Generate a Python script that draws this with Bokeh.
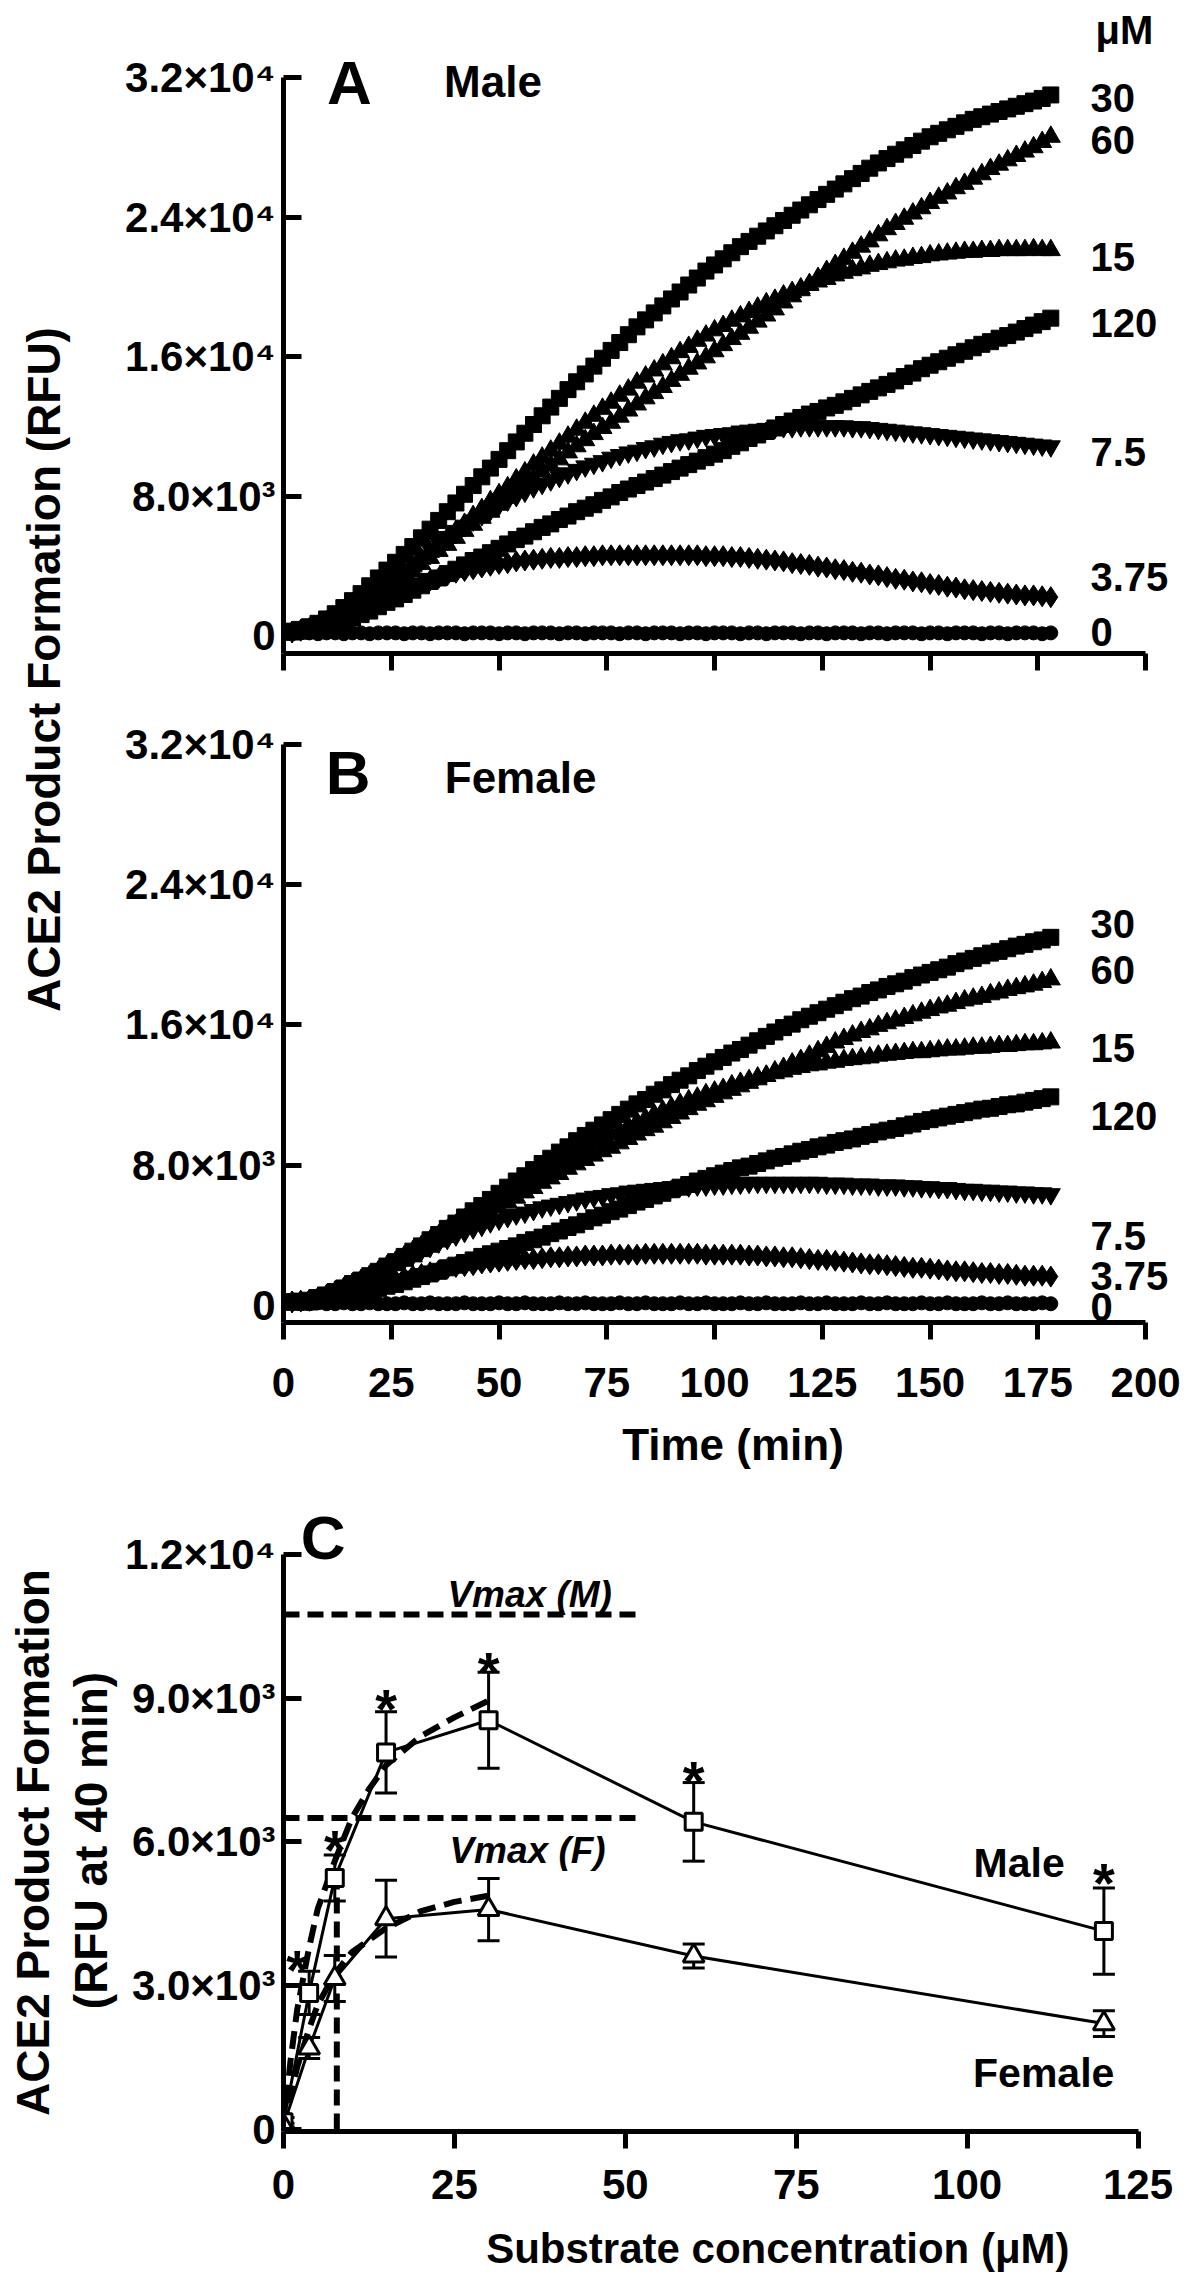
import math
from bokeh.plotting import figure
from bokeh.layouts import row, column
from bokeh.models import Range1d, FixedTicker, Whisker, TeeHead, ColumnDataSource, Label
from bokeh.core.properties import value
from bokeh.embed import file_html
from bokeh.resources import INLINE

FONT = "Liberation Sans"

# ---------------- data (RFU values in thousands for the time courses) ----------------
time_min = list(range(0, 180, 2))

male_30 = [0.2,0.25,0.35,0.5,0.7,0.95,1.25,1.6,2.0,2.4,
           2.85,3.3,3.75,4.2,4.65,5.1,5.6,6.1,6.6,7.1,
           7.6,8.1,8.6,9.1,9.6,10.1,10.6,11.1,11.6,12.1,
           12.6,13.1,13.6,14.1,14.55,15.0,15.45,15.9,16.35,16.8,
           17.25,17.7,18.1,18.5,18.9,19.3,19.7,20.1,20.5,20.9,
           21.25,21.6,21.95,22.3,22.6,22.9,23.2,23.5,23.8,24.1,
           24.4,24.7,25.0,25.3,25.6,25.9,26.2,26.5,26.8,27.1,
           27.35,27.6,27.85,28.1,28.35,28.6,28.8,29.0,29.2,29.4,
           29.6,29.75,29.9,30.05,30.2,30.35,30.5,30.65,30.8,31.0]
male_60 = [0.2,0.2,0.25,0.35,0.5,0.7,0.9,1.15,1.4,1.7,
           2.0,2.3,2.65,3.0,3.35,3.7,4.1,4.45,4.85,5.2,
           5.6,6.0,6.35,6.75,7.1,7.5,7.9,8.25,8.65,9.0,
           9.4,9.75,10.1,10.5,10.85,11.2,11.55,11.9,12.2,12.55,
           12.9,13.25,13.6,13.9,14.25,14.6,14.95,15.3,15.6,15.95,
           16.3,16.65,17.0,17.3,17.65,18.0,18.35,18.7,19.1,19.45,
           19.8,20.15,20.5,20.9,21.25,21.6,21.95,22.3,22.6,22.95,
           23.3,23.6,23.9,24.2,24.5,24.8,25.1,25.35,25.65,25.9,
           26.2,26.45,26.75,27.0,27.25,27.5,27.75,28.0,28.3,28.6]
male_15 = [0.2,0.2,0.3,0.4,0.55,0.8,1.05,1.35,1.65,1.9,
           2.2,2.55,2.9,3.25,3.6,4.0,4.4,4.8,5.2,5.6,
           6.0,6.4,6.85,7.25,7.7,8.1,8.5,8.95,9.35,9.8,
           10.2,10.6,11.0,11.4,11.8,12.2,12.6,13.0,13.35,13.75,
           14.1,14.5,14.85,15.2,15.55,15.9,16.25,16.55,16.9,17.2,
           17.5,17.75,18.05,18.3,18.55,18.8,19.05,19.25,19.5,19.7,
           19.9,20.1,20.3,20.45,20.65,20.8,20.95,21.05,21.2,21.3,
           21.4,21.5,21.55,21.65,21.7,21.8,21.85,21.9,21.95,22.0,
           22.0,22.05,22.05,22.1,22.1,22.1,22.1,22.15,22.1,22.1]
male_120 = [0.2,0.2,0.25,0.3,0.4,0.5,0.65,0.85,1.0,1.2,
            1.4,1.65,1.9,2.1,2.35,2.6,2.85,3.1,3.3,3.55,
            3.8,4.05,4.3,4.5,4.75,5.0,5.25,5.5,5.7,5.95,
            6.2,6.4,6.65,6.85,7.1,7.3,7.5,7.75,7.95,8.2,
            8.4,8.6,8.8,9.0,9.2,9.4,9.6,9.8,10.0,10.2,
            10.4,10.6,10.85,11.05,11.3,11.5,11.7,11.9,12.1,12.3,
            12.5,12.7,12.85,13.05,13.2,13.4,13.6,13.8,14.0,14.2,
            14.4,14.6,14.85,15.05,15.3,15.5,15.7,15.9,16.1,16.3,
            16.5,16.7,16.85,17.05,17.2,17.4,17.6,17.8,18.0,18.2]
male_7_5 = [0.2,0.2,0.3,0.4,0.55,0.8,1.05,1.35,1.65,1.95,
            2.3,2.7,3.05,3.45,3.8,4.2,4.55,4.95,5.3,5.65,
            6.0,6.3,6.6,6.9,7.2,7.5,7.75,8.0,8.25,8.5,
            8.7,8.9,9.1,9.3,9.5,9.7,9.85,10.0,10.2,10.35,
            10.5,10.6,10.75,10.85,11.0,11.1,11.2,11.25,11.35,11.45,
            11.5,11.55,11.6,11.7,11.75,11.8,11.85,11.9,11.95,11.95,
            12.0,12.0,12.0,12.0,12.0,12.0,11.95,11.95,11.9,11.85,
            11.8,11.75,11.7,11.65,11.6,11.55,11.5,11.45,11.4,11.35,
            11.3,11.25,11.2,11.15,11.1,11.05,11.0,10.95,10.9,10.85]
male_3_75 = [0.2,0.2,0.3,0.4,0.5,0.7,0.9,1.1,1.3,1.5,
             1.7,1.95,2.15,2.4,2.6,2.8,3.0,3.15,3.3,3.45,
             3.6,3.7,3.8,3.9,4.0,4.1,4.15,4.25,4.3,4.35,
             4.4,4.45,4.45,4.5,4.5,4.55,4.55,4.6,4.6,4.6,
             4.6,4.6,4.6,4.6,4.6,4.6,4.6,4.6,4.6,4.55,
             4.55,4.55,4.5,4.5,4.45,4.4,4.35,4.3,4.25,4.15,
             4.1,4.05,3.95,3.9,3.8,3.75,3.65,3.6,3.5,3.45,
             3.35,3.25,3.2,3.1,3.05,2.95,2.9,2.8,2.75,2.65,
             2.6,2.55,2.5,2.45,2.4,2.35,2.3,2.3,2.25,2.2]
male_0 = [0.15,0.1,0.15,0.15,0.1,0.15,0.15,0.1,0.15,0.15,
          0.1,0.15,0.15,0.15,0.1,0.15,0.15,0.1,0.15,0.15,
          0.15,0.1,0.15,0.15,0.15,0.1,0.15,0.15,0.1,0.15,
          0.15,0.15,0.1,0.15,0.15,0.1,0.15,0.15,0.15,0.1,
          0.15,0.15,0.1,0.15,0.15,0.15,0.1,0.15,0.15,0.1,
          0.15,0.15,0.15,0.1,0.15,0.15,0.1,0.15,0.15,0.15,
          0.1,0.15,0.15,0.1,0.15,0.15,0.15,0.1,0.15,0.15,
          0.1,0.15,0.15,0.15,0.1,0.15,0.15,0.1,0.15,0.15,
          0.15,0.1,0.15,0.15,0.1,0.15,0.15,0.15,0.1,0.15]

female_30 = [0.2,0.2,0.25,0.3,0.45,0.6,0.8,1.0,1.25,1.45,
             1.7,1.95,2.25,2.5,2.8,3.1,3.4,3.75,4.05,4.4,
             4.7,5.05,5.4,5.7,6.05,6.4,6.75,7.1,7.4,7.75,
             8.1,8.4,8.75,9.05,9.4,9.7,10.0,10.3,10.6,10.9,
             11.2,11.5,11.75,12.05,12.3,12.6,12.85,13.1,13.4,13.65,
             13.9,14.15,14.4,14.6,14.85,15.1,15.35,15.6,15.85,16.05,
             16.3,16.5,16.7,16.9,17.1,17.3,17.5,17.65,17.85,18.0,
             18.2,18.35,18.5,18.7,18.85,19.0,19.15,19.3,19.5,19.65,
             19.8,19.95,20.1,20.2,20.35,20.5,20.6,20.75,20.85,21.0]
female_60 = [0.2,0.2,0.2,0.3,0.4,0.5,0.7,0.9,1.1,1.3,
             1.5,1.75,2.0,2.3,2.55,2.8,3.1,3.35,3.65,3.9,
             4.2,4.5,4.75,5.05,5.3,5.6,5.9,6.15,6.45,6.7,
             7.0,7.25,7.5,7.8,8.05,8.3,8.55,8.8,9.0,9.25,
             9.5,9.75,10.0,10.2,10.45,10.7,10.95,11.2,11.45,11.65,
             11.9,12.1,12.3,12.5,12.7,12.9,13.1,13.35,13.55,13.8,
             14.0,14.25,14.5,14.75,15.0,15.2,15.4,15.6,15.75,15.95,
             16.1,16.25,16.4,16.55,16.7,16.85,17.0,17.1,17.25,17.4,
             17.5,17.6,17.75,17.85,18.0,18.1,18.2,18.3,18.45,18.6]
female_15 = [0.2,0.2,0.25,0.3,0.45,0.6,0.8,1.0,1.25,1.45,
             1.7,1.95,2.25,2.5,2.8,3.1,3.4,3.7,4.0,4.3,
             4.6,4.9,5.2,5.5,5.8,6.1,6.4,6.7,7.0,7.3,
             7.6,7.9,8.15,8.45,8.75,9.0,9.25,9.5,9.75,9.95,
             10.2,10.45,10.65,10.9,11.1,11.3,11.5,11.7,11.85,12.05,
             12.2,12.35,12.55,12.7,12.85,13.0,13.1,13.25,13.35,13.5,
             13.6,13.7,13.75,13.85,13.9,14.0,14.05,14.1,14.15,14.25,
             14.3,14.35,14.4,14.45,14.45,14.5,14.55,14.6,14.6,14.65,
             14.7,14.7,14.75,14.8,14.8,14.85,14.9,14.9,14.95,15.0]
female_120 = [0.2,0.2,0.2,0.2,0.25,0.3,0.4,0.5,0.6,0.7,
              0.8,0.95,1.1,1.2,1.35,1.5,1.65,1.8,1.95,2.15,
              2.3,2.45,2.6,2.8,2.95,3.1,3.25,3.4,3.6,3.75,
              3.9,4.1,4.25,4.45,4.6,4.8,5.0,5.15,5.35,5.5,
              5.7,5.9,6.05,6.25,6.4,6.6,6.75,6.9,7.1,7.25,
              7.4,7.55,7.7,7.85,7.95,8.1,8.25,8.4,8.5,8.65,
              8.8,8.9,9.05,9.15,9.3,9.4,9.5,9.65,9.75,9.9,
              10.0,10.1,10.25,10.35,10.5,10.6,10.7,10.8,10.9,11.0,
              11.1,11.2,11.25,11.35,11.45,11.5,11.6,11.7,11.8,11.9]
female_7_5 = [0.2,0.2,0.25,0.3,0.45,0.6,0.8,1.05,1.25,1.5,
              1.7,1.95,2.2,2.45,2.65,2.9,3.15,3.35,3.6,3.8,
              4.0,4.2,4.4,4.55,4.75,4.9,5.05,5.2,5.3,5.45,
              5.6,5.7,5.8,5.9,6.0,6.1,6.2,6.25,6.35,6.4,
              6.5,6.55,6.6,6.65,6.7,6.75,6.8,6.8,6.85,6.85,
              6.9,6.9,6.95,6.95,7.0,7.0,7.0,7.0,7.0,7.0,
              7.0,7.0,7.0,6.95,6.95,6.95,6.9,6.9,6.9,6.85,
              6.85,6.85,6.8,6.8,6.75,6.75,6.7,6.7,6.65,6.6,
              6.6,6.55,6.55,6.5,6.5,6.45,6.45,6.4,6.4,6.35]
female_3_75 = [0.2,0.2,0.25,0.3,0.4,0.5,0.6,0.75,0.85,0.95,
               1.1,1.2,1.35,1.45,1.6,1.7,1.8,1.9,2.0,2.1,
               2.2,2.25,2.3,2.4,2.45,2.5,2.55,2.6,2.65,2.65,
               2.7,2.75,2.75,2.8,2.8,2.85,2.85,2.85,2.9,2.9,
               2.9,2.9,2.95,2.95,2.95,2.95,2.95,2.95,2.95,2.9,
               2.9,2.9,2.9,2.9,2.85,2.85,2.8,2.8,2.75,2.75,
               2.7,2.65,2.6,2.6,2.55,2.5,2.45,2.4,2.35,2.35,
               2.3,2.25,2.2,2.15,2.15,2.1,2.05,2.0,1.95,1.95,
               1.9,1.85,1.85,1.8,1.8,1.75,1.7,1.7,1.7,1.65]
female_0 = [0.1,0.15,0.1,0.1,0.15,0.1,0.1,0.15,0.1,0.1,
            0.15,0.1,0.1,0.1,0.15,0.1,0.1,0.15,0.1,0.1,
            0.1,0.15,0.1,0.1,0.1,0.15,0.1,0.1,0.15,0.1,
            0.1,0.1,0.15,0.1,0.1,0.15,0.1,0.1,0.1,0.15,
            0.1,0.1,0.15,0.1,0.1,0.1,0.15,0.1,0.1,0.15,
            0.1,0.1,0.1,0.15,0.1,0.1,0.15,0.1,0.1,0.1,
            0.15,0.1,0.1,0.15,0.1,0.1,0.1,0.15,0.1,0.1,
            0.15,0.1,0.1,0.1,0.15,0.1,0.1,0.15,0.1,0.1,
            0.1,0.15,0.1,0.1,0.15,0.1,0.1,0.1,0.15,0.1]

conc_labels = ["30", "60", "15", "120", "7.5", "3.75", "0"]
male_label_y = [31200, 28800, 22100, 18300, 10950, 3750, 600]
female_label_y = [22150, 19530, 15070, 11200, 4350, 2100, 320]

# Panel C
substrate_uM = [0, 3.75, 7.5, 15, 30, 60, 120]
male_rfu40 = [150, 2850, 5250, 7870, 8540, 6420, 4140]
male_sem = [100, 450, 480, 850, 1000, 820, 900]
female_rfu40 = [80, 1700, 3150, 4400, 4590, 3620, 2210]
female_sem = [50, 220, 480, 800, 650, 250, 270]
star_x = [2.0, 7.5, 15, 30, 60, 120]
star_y = [3670, 6180, 9130, 9900, 7620, 5480]
fit_x_male = [0, 1, 2, 3.75, 5, 7.5, 10, 12.5, 15, 20, 25, 30]
fit_y_male = [0, 1400, 2500, 3800, 4600, 5600, 6500, 7100, 7600, 8200, 8600, 8950]
fit_x_female = [0, 1, 2, 3.75, 5, 7.5, 10, 15, 20, 25, 30]
fit_y_female = [0, 700, 1300, 2100, 2600, 3250, 3700, 4200, 4550, 4750, 4880]
vmax_male = 10750
vmax_female = 6500
km_male = 7.8
vmax_line_end = 52

# ---------------- helpers ----------------
def style_axes(p, ylabels, xlabels):
    for ax in (p.xaxis[0], p.yaxis[0]):
        ax.axis_line_width = 5
        ax.axis_line_color = "black"
        ax.major_tick_line_width = 5
        ax.major_tick_line_color = "black"
        ax.minor_tick_line_color = None
        ax.major_label_text_font = FONT
        ax.major_label_text_font_style = "bold"
        ax.major_label_text_font_size = "42px"
        ax.major_label_text_color = "black"
        ax.axis_label_text_color = "black"
    p.yaxis.major_tick_in = 18
    p.yaxis.major_tick_out = 0
    p.yaxis.major_label_standoff = 8
    p.xaxis.major_tick_in = 0
    p.xaxis.major_tick_out = 17
    p.yaxis.ticker = FixedTicker(ticks=list(ylabels.keys()))
    p.yaxis.major_label_overrides = ylabels
    p.xaxis.ticker = FixedTicker(ticks=list(xlabels.keys()))
    p.xaxis.major_label_overrides = xlabels
    p.xgrid.visible = False
    p.ygrid.visible = False
    p.outline_line_color = None


def add_label(p, x, y, text, size, upp=0.0, style="bold", angle=0.0):
    # y is the wanted visual centre; nudge the anchor down by a fraction of the font size
    p.add_layout(Label(x=x, y=y - 0.16 * size * upp, text=text, text_font=FONT,
                       text_font_size=f"{size}px", text_font_style=style, text_align="center",
                       text_baseline="middle", text_color="black", angle=angle))


TIME_Y_LABELS = {0: "0", 8000: "8.0×10³", 16000: "1.6×10⁴", 24000: "2.4×10⁴", 32000: "3.2×10⁴"}
COL_W = 1062
UPP_A = 57.35
UPP_B = 57.04
UPP_C = 20.87


def time_panel(series, label_y, letter, sex, y0, y1, height, bottom, show_x, letter_pos, sex_pos, upp):
    p = figure(width=COL_W, height=height, x_range=Range1d(0, 208.55), y_range=Range1d(y0, y1),
               output_backend="svg", toolbar_location=None,
               min_border_left=158, min_border_right=2, min_border_top=0, min_border_bottom=bottom,
               background_fill_color="white", border_fill_color="white")
    xl = {t: (str(t) if show_x else "") for t in range(0, 201, 25)}
    style_axes(p, TIME_Y_LABELS, xl)
    p.yaxis.bounds = (y0, 32000)
    p.xaxis.bounds = (0, 200)
    markers = [("square", 16), ("triangle", 19), ("triangle", 19), ("square", 16),
               ("inverted_triangle", 19), ("diamond", 21), ("circle", 14)]
    for vals, (m, s) in zip(series, markers):
        p.scatter(time_min, [v * 1000 for v in vals], marker=m, size=s,
                  fill_color="black", line_color="black", line_width=1)
    p.text(x=187.2, y=label_y, text=conc_labels, text_font=value(FONT), text_font_style="bold",
           text_font_size="40px", text_align="left", text_baseline="middle", y_offset=7,
           text_color="black")
    add_label(p, letter_pos[0], letter_pos[1], letter, 62, upp)
    add_label(p, sex_pos[0], sex_pos[1], sex, 44, upp)
    return p


# ---------------- panel A ----------------
pA = time_panel([male_30, male_60, male_15, male_120, male_7_5, male_3_75, male_0], male_label_y,
                "A", "Male", -1032, 36416, 712, 59, False, (15.3, 32290), (48.6, 32170), UPP_A)
add_label(pA, 195.1, 35100, "μM", 40, UPP_A)

# ---------------- panel B ----------------
pB = time_panel([female_30, female_60, female_15, female_120, female_7_5, female_3_75, female_0],
                female_label_y, "B", "Female", -970, 33825, 776, 166, True, (15.0, 30970), (55.0, 30520),
                UPP_B)
pB.xaxis.axis_label = "Time (min)"
pB.xaxis.axis_label_text_font = FONT
pB.xaxis.axis_label_text_font_style = "bold"
pB.xaxis.axis_label_text_font_size = "44px"
pB.xaxis.axis_label_text_color = "black"
pB.xaxis.axis_label_standoff = 20
pB.xaxis.major_label_standoff = 28

# ---------------- panel C ----------------
pC = figure(width=COL_W, height=736, x_range=Range1d(0, 131.5), y_range=Range1d(-42, 13377),
            output_backend="svg", toolbar_location=None,
            min_border_left=153, min_border_right=2, min_border_top=0, min_border_bottom=93,
            background_fill_color="white", border_fill_color="white")
style_axes(pC, {0: "0", 3000: "3.0×10³", 6000: "6.0×10³", 9000: "9.0×10³", 12000: "1.2×10⁴"},
           {t: str(t) for t in range(0, 126, 25)})
pC.yaxis.bounds = (-42, 12000)
pC.xaxis.bounds = (0, 125)
pC.xaxis.major_label_standoff = 21

dash = "16 8"
pC.line([0, vmax_line_end], [vmax_male, vmax_male], line_dash=dash, line_width=6, line_color="black")
pC.line([0, vmax_line_end], [vmax_female, vmax_female], line_dash=dash, line_width=6, line_color="black")
pC.line([km_male, km_male], [0, vmax_male / 2], line_dash=dash, line_width=6, line_color="black")

src_m = ColumnDataSource(dict(x=substrate_uM, y=male_rfu40,
                              up=[v + e for v, e in zip(male_rfu40, male_sem)],
                              lo=[v - e for v, e in zip(male_rfu40, male_sem)]))
src_f = ColumnDataSource(dict(x=substrate_uM, y=female_rfu40,
                              up=[v + e for v, e in zip(female_rfu40, female_sem)],
                              lo=[v - e for v, e in zip(female_rfu40, female_sem)]))
for src in (src_m, src_f):
    pC.add_layout(Whisker(base="x", upper="up", lower="lo", source=src, line_width=3,
                          line_color="black",
                          upper_head=TeeHead(size=22, line_width=3, line_color="black"),
                          lower_head=TeeHead(size=22, line_width=3, line_color="black")))
pC.line("x", "y", source=src_m, line_width=3, line_color="black")
pC.line("x", "y", source=src_f, line_width=3, line_color="black")
pC.line(fit_x_male, fit_y_male, line_dash="18 9", line_width=6, line_color="black")
pC.line(fit_x_female, fit_y_female, line_dash="18 9", line_width=6, line_color="black")
pC.scatter("x", "y", source=src_m, marker="square", size=17, fill_color="white",
           line_color="black", line_width=3)
pC.scatter("x", "y", source=src_f, marker="triangle", size=21, fill_color="white",
           line_color="black", line_width=3)
pC.text(x=star_x, y=star_y, text=["*"] * len(star_x), text_font=value(FONT), text_font_style="bold",
        text_font_size="56px", text_align="center", text_baseline="middle", y_offset=16,
        text_color="black")
add_label(pC, 5.8, 12564, "C", 62, UPP_C)
add_label(pC, 36, 11290, "Vmax (M)", 37, UPP_C, style="bold italic")
add_label(pC, 35.7, 5936, "Vmax (F)", 37, UPP_C, style="bold italic")
add_label(pC, 107.6, 5697, "Male", 41, UPP_C)
add_label(pC, 111.2, 1315, "Female", 41, UPP_C)

# x-axis title of panel C in its own thin strip below the panel
pT = figure(width=COL_W, height=48, x_range=Range1d(0, COL_W), y_range=Range1d(0, 48),
            x_axis_type=None, y_axis_type=None, output_backend="svg", toolbar_location=None,
            min_border_left=0, min_border_right=0, min_border_top=0, min_border_bottom=0,
            background_fill_color="white", border_fill_color="white")
pT.outline_line_color = None
pT.xgrid.visible = False
pT.ygrid.visible = False
add_label(pT, 584, 24, "Substrate concentration (μM)", 42)

# ---------------- left strip with rotated axis titles ----------------
strip = figure(width=122, height=2272, x_range=Range1d(0, 122), y_range=Range1d(0, 2272),
               x_axis_type=None, y_axis_type=None, output_backend="svg", toolbar_location=None,
               min_border_left=0, min_border_right=0, min_border_top=0, min_border_bottom=0,
               background_fill_color="white", border_fill_color="white")
strip.outline_line_color = None
strip.xgrid.visible = False
strip.ygrid.visible = False
add_label(strip, 43, 1603, "ACE2 Product Formation (RFU)", 46, angle=math.pi / 2)
add_label(strip, 32, 430, "ACE2 Product Formation", 46, angle=math.pi / 2)
add_label(strip, 90, 432, "(RFU at 40 min)", 46, angle=math.pi / 2)

layout = row(strip, column(pA, pB, pC, pT, spacing=0), spacing=0)

open("out.html", "w").write(file_html(layout, INLINE))
